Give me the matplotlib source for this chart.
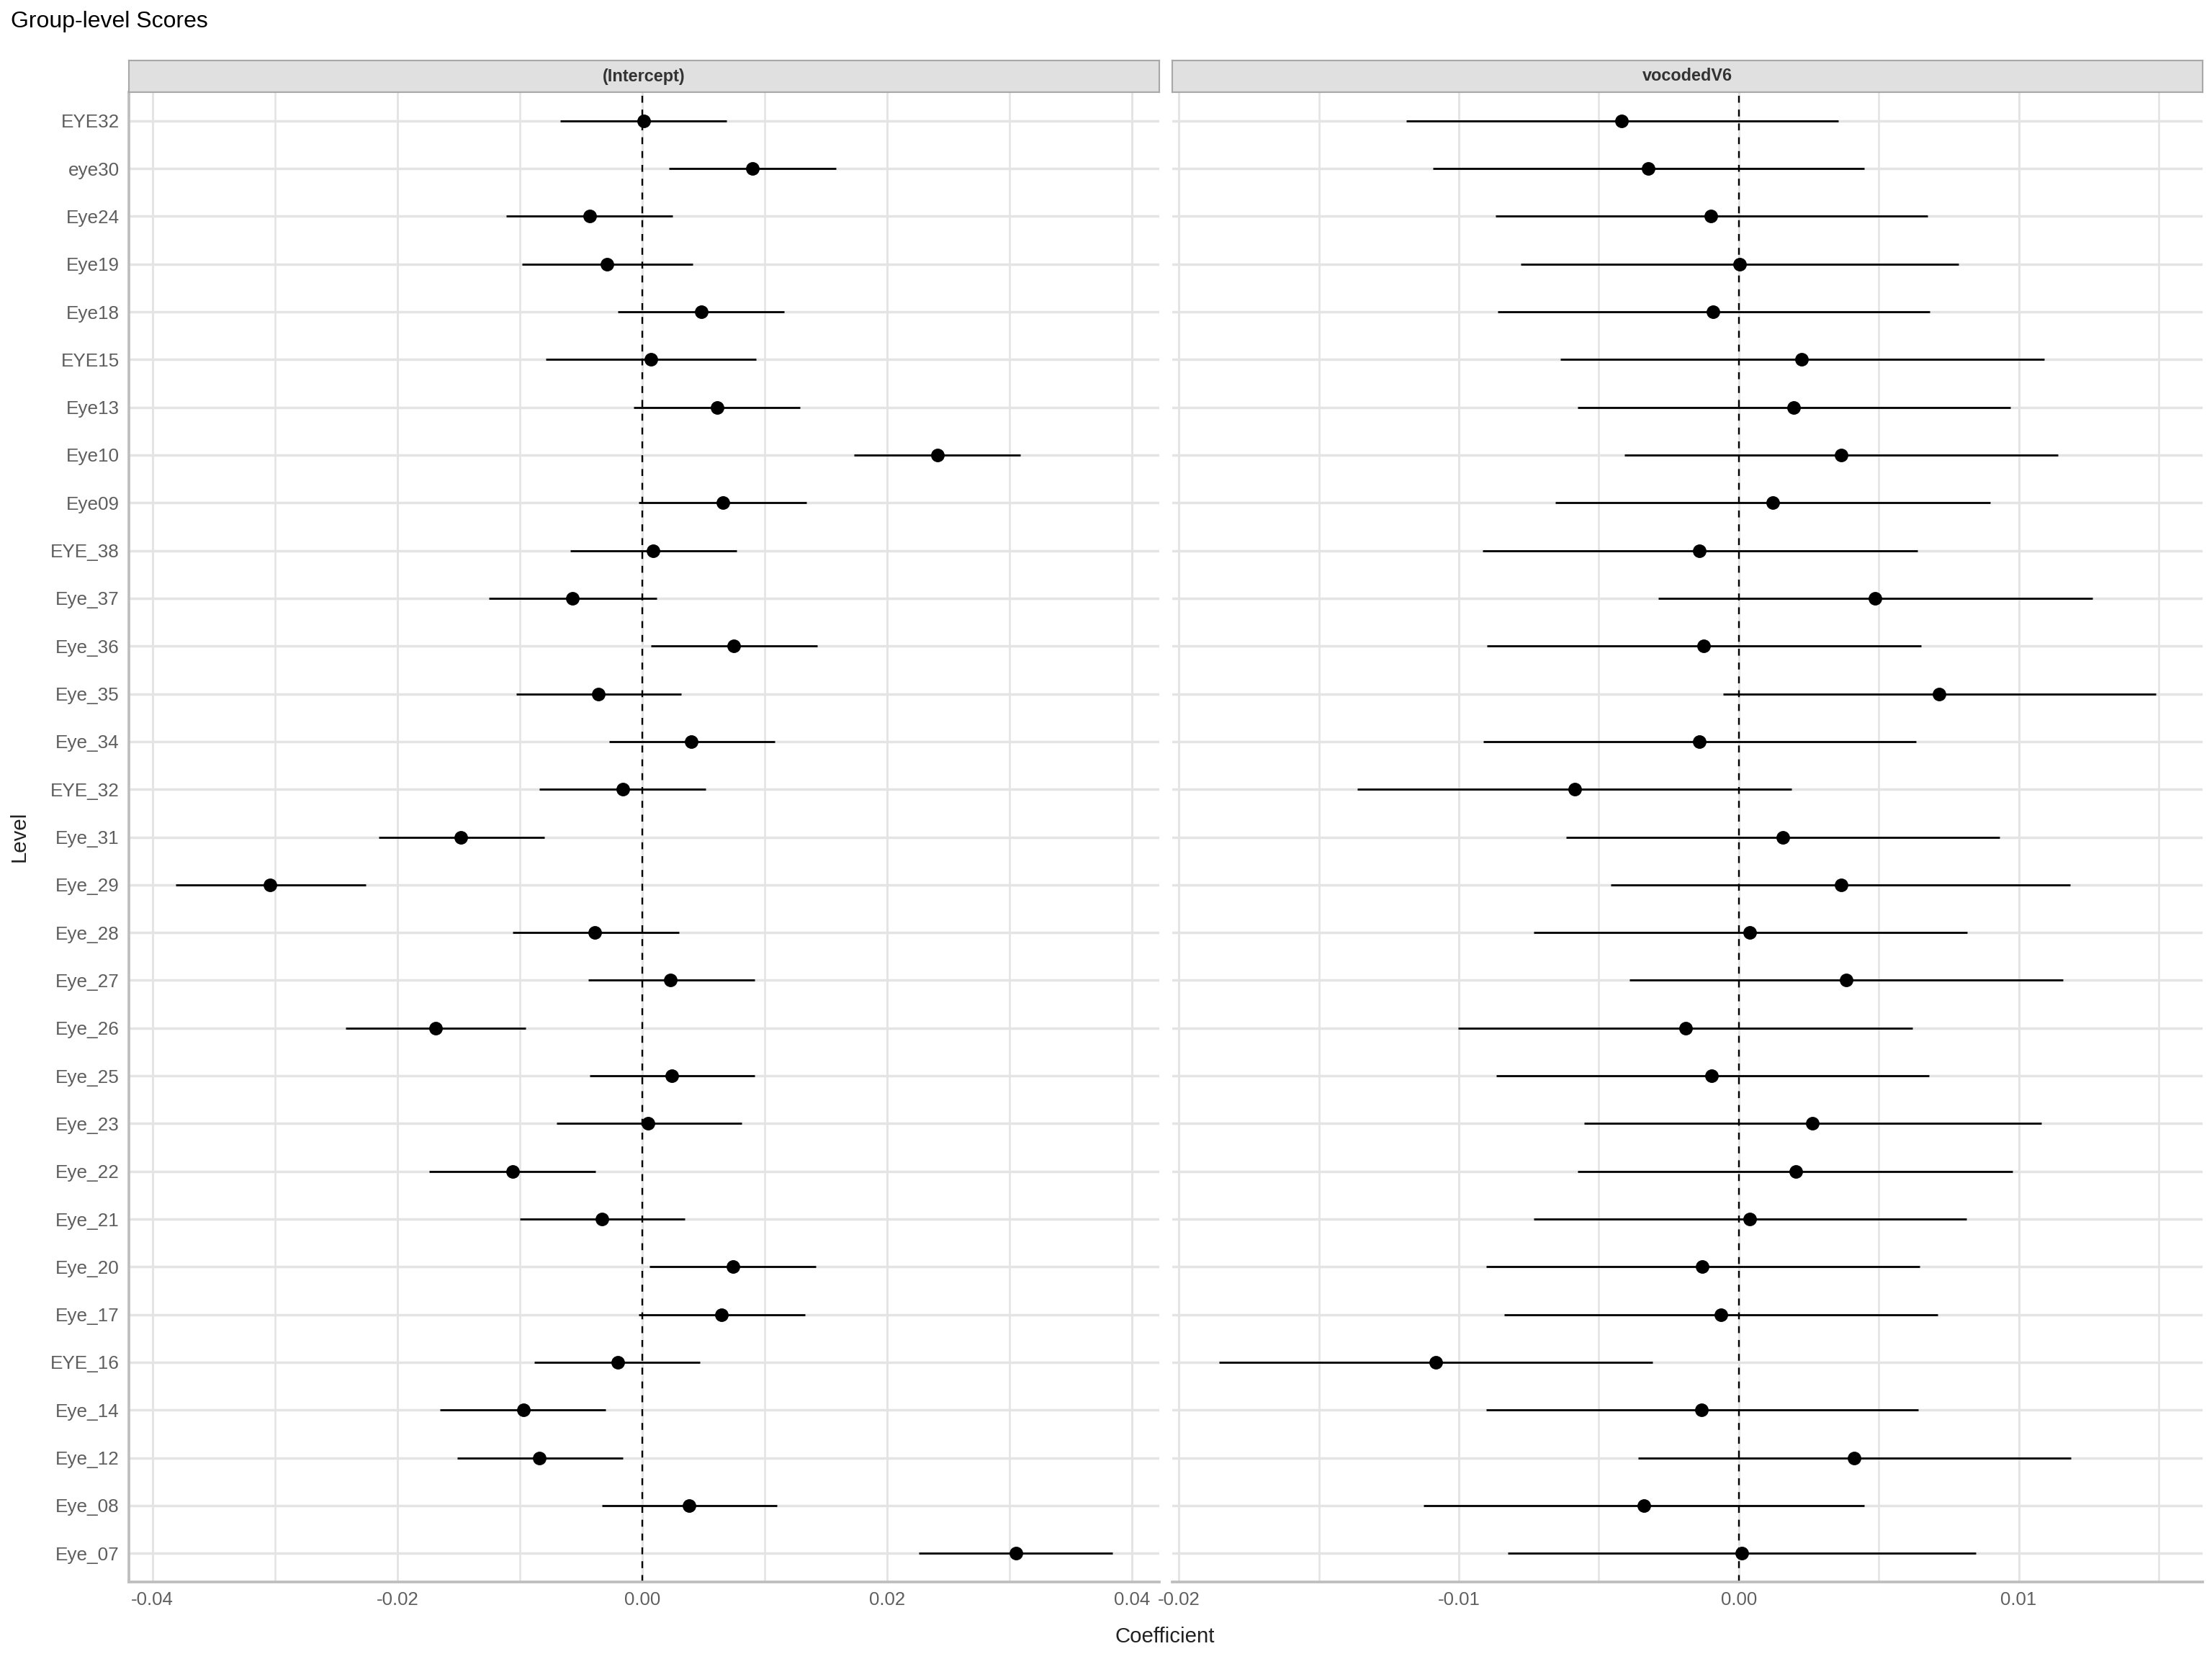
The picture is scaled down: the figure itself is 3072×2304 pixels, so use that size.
import numpy as np
import matplotlib
matplotlib.use("Agg")
import matplotlib.pyplot as plt

plt.rcParams['font.family'] = ['Liberation Sans', 'DejaVu Sans']

# Levels, top to bottom as shown
levels = ["EYE32", "eye30", "Eye24", "Eye19", "Eye18", "EYE15", "Eye13", "Eye10",
          "Eye09", "EYE_38", "Eye_37", "Eye_36", "Eye_35", "Eye_34", "EYE_32",
          "Eye_31", "Eye_29", "Eye_28", "Eye_27", "Eye_26", "Eye_25", "Eye_23",
          "Eye_22", "Eye_21", "Eye_20", "Eye_17", "EYE_16", "Eye_14", "Eye_12",
          "Eye_08", "Eye_07"]

# (Intercept) panel
int_est = [0.0001, 0.0090, -0.0043, -0.0029, 0.0048, 0.0007, 0.0061, 0.0241,
           0.0066, 0.0009, -0.0057, 0.0075, -0.0036, 0.0040, -0.0016,
           -0.0148, -0.0304, -0.0039, 0.0023, -0.0169, 0.0024, 0.0005,
           -0.0106, -0.0033, 0.0074, 0.0065, -0.0020, -0.0097, -0.0084,
           0.0038, 0.0305]
int_lo = [-0.0067, 0.0022, -0.0111, -0.0098, -0.0020, -0.0079, -0.0007, 0.0173,
          -0.0003, -0.0059, -0.0125, 0.0007, -0.0103, -0.0027, -0.0084,
          -0.0215, -0.0381, -0.0106, -0.0044, -0.0242, -0.0043, -0.0070,
          -0.0174, -0.0100, 0.0006, -0.0003, -0.0088, -0.0165, -0.0151,
          -0.0033, 0.0226]
int_hi = [0.0069, 0.0158, 0.0025, 0.0041, 0.0116, 0.0093, 0.0129, 0.0309,
          0.0134, 0.0077, 0.0012, 0.0143, 0.0032, 0.0108, 0.0052,
          -0.0080, -0.0226, 0.0030, 0.0092, -0.0095, 0.0092, 0.0081,
          -0.0038, 0.0035, 0.0142, 0.0133, 0.0047, -0.0030, -0.0016,
          0.0110, 0.0384]

# vocodedV6 panel
voc_est = [-0.00418, -0.00324, -0.00099, 0.00002, -0.00092, 0.00225, 0.00196, 0.00365,
           0.00121, -0.00140, 0.00488, -0.00126, 0.00715, -0.00140, -0.00587,
           0.00157, 0.00365, 0.00039, 0.00384, -0.00191, -0.00097, 0.00263,
           0.00203, 0.00039, -0.00130, -0.00065, -0.01082, -0.00133, 0.00411,
           -0.00338, 0.00010]
voc_lo = [-0.01188, -0.01094, -0.00870, -0.00778, -0.00862, -0.00638, -0.00577, -0.00408,
          -0.00655, -0.00915, -0.00287, -0.00901, -0.00056, -0.00913, -0.01362,
          -0.00616, -0.00457, -0.00734, -0.00391, -0.01002, -0.00867, -0.00553,
          -0.00575, -0.00732, -0.00903, -0.00838, -0.01857, -0.00903, -0.00360,
          -0.01126, -0.00826]
voc_hi = [0.00355, 0.00449, 0.00674, 0.00785, 0.00681, 0.01092, 0.00971, 0.01140,
          0.00899, 0.00638, 0.01263, 0.00652, 0.01490, 0.00633, 0.00188,
          0.00932, 0.01184, 0.00816, 0.01159, 0.00621, 0.00679, 0.01080,
          0.00978, 0.00814, 0.00647, 0.00710, -0.00309, 0.00640, 0.01186,
          0.00447, 0.00848]

panels = [
    ("(Intercept)", int_est, int_lo, int_hi,
     [-0.04, -0.02, 0.0, 0.02, 0.04], ["-0.04", "-0.02", "0.00", "0.02", "0.04"],
     [-0.03, -0.01, 0.01, 0.03]),
    ("vocodedV6", voc_est, voc_lo, voc_hi,
     [-0.02, -0.01, 0.0, 0.01], ["-0.02", "-0.01", "0.00", "0.01"],
     [-0.015, -0.005, 0.005, 0.015]),
]

W, H = 3072, 2304
fig = plt.figure(figsize=(16, 12), dpi=192)

panel_top, panel_bot = 128, 2197
strip_h = 44
lefts = [179, 1628]
pw = 1431

n = len(levels)
ypos = np.arange(n, 0, -1)

grid_col = '#E4E4E4'
tick_col = '#5E5E5E'
for i, (name, est, lo, hi, ticks, labels, minor) in enumerate(panels):
    x0 = lefts[i]
    ax = fig.add_axes([x0 / W, 1 - panel_bot / H, pw / W, (panel_bot - panel_top) / H])
    ax.set_facecolor('white')

    ax.axvline(0, color='black', lw=0.9, linestyle=(0, (4, 4)), zorder=2)
    ax.hlines(ypos, lo, hi, color='black', lw=1.05, zorder=3)
    ax.scatter(est, ypos, s=50, color='black', zorder=4, linewidths=0)

    # ggplot-style 5% expansion of the data range
    xmin = min(lo)
    xmax = max(hi)
    pad = (xmax - xmin) * 0.05
    ax.set_xlim(xmin - pad, xmax + pad)
    ax.set_ylim(0.4, n + 0.6)

    ax.set_xticks(ticks)
    ax.set_xticklabels(labels)
    ax.set_xticks(minor, minor=True)
    ax.set_yticks(ypos)
    if i == 0:
        ax.set_yticklabels(levels)
    else:
        ax.set_yticklabels([])

    ax.grid(which='major', axis='x', color=grid_col, lw=1.1, zorder=0)
    ax.grid(which='minor', axis='x', color=grid_col, lw=1.0, zorder=0)
    ax.grid(which='major', axis='y', color=grid_col, lw=1.3, zorder=0)
    ax.set_axisbelow(True)

    ax.tick_params(axis='both', which='both', length=0)
    ax.tick_params(axis='x', pad=5, labelsize=9.7, labelcolor=tick_col)
    ax.tick_params(axis='y', pad=5, labelsize=9.8, labelcolor=tick_col)

    for s in ['top', 'right']:
        ax.spines[s].set_visible(False)
    ax.spines['bottom'].set_color('#BEBEBE')
    ax.spines['bottom'].set_linewidth(1.4)
    if i == 0:
        ax.spines['left'].set_color('#BEBEBE')
        ax.spines['left'].set_linewidth(1.4)
    else:
        ax.spines['left'].set_visible(False)

    # facet strip
    sax = fig.add_axes([x0 / W, 1 - panel_top / H, pw / W, strip_h / H])
    sax.set_facecolor('#E0E0E0')
    sax.set_xticks([])
    sax.set_yticks([])
    for s in sax.spines.values():
        s.set_color('#A8A8A8')
        s.set_linewidth(0.8)
    sax.text(0.5, 0.5, name, ha='center', va='center', fontsize=8.8,
             fontweight='bold', color='#333333', transform=sax.transAxes)

fig.text(15 / W, 1 - 30 / H, "Group-level Scores", fontsize=12, ha='left', va='center')
fig.text(1618 / W, 1 - 2273 / H, "Coefficient", fontsize=11, ha='center', va='center',
         color='#222222')
fig.text(27 / W, 1 - 1162 / H, "Level", fontsize=11, ha='center', va='center',
         rotation=90, color='#222222')

fig.savefig("out.png", dpi=192, facecolor='white')
